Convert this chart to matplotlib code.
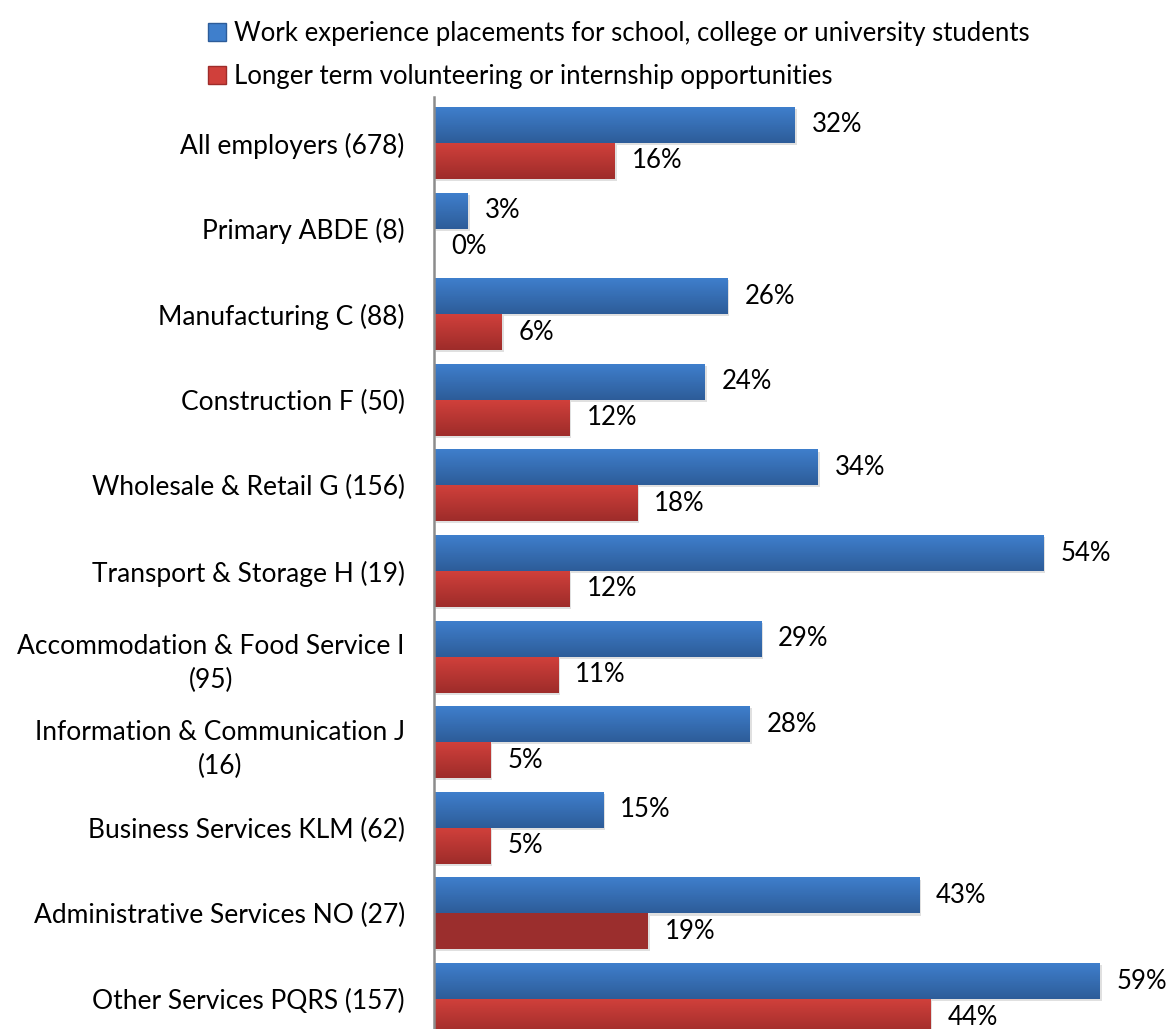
import numpy as np
import matplotlib
matplotlib.use("Agg")
import matplotlib.pyplot as plt
from matplotlib.patches import Patch
from matplotlib.colors import LinearSegmentedColormap
import matplotlib.patheffects as pe

categories = [
    "All employers (678)",
    "Primary ABDE (8)",
    "Manufacturing C (88)",
    "Construction F (50)",
    "Wholesale & Retail G (156)",
    "Transport & Storage H (19)",
    "Accommodation & Food Service I\n(95)",
    "Information & Communication J\n(16)",
    "Business Services KLM (62)",
    "Administrative Services NO (27)",
    "Other Services PQRS (157)",
]
work_experience = [32, 3, 26, 24, 34, 54, 29, 28, 15, 43, 59]
longer_term = [16, 0, 6, 12, 18, 12, 11, 5, 5, 19, 44]
series_labels = [
    "Work experience placements for school, college or university students",
    "Longer term volunteering or internship opportunities",
]
highlight = "Administrative Services NO (27)"

plt.rcParams["font.family"] = ["Lato", "DejaVu Sans"]
FS = 18.5

W, H = 1167, 1029
fig = plt.figure(figsize=(W / 100, H / 100), dpi=100)
px_per_unit = 11.28
x0 = 434
top_px, bot_px = 97, 1045
ax = fig.add_axes([x0 / W, (H - bot_px) / H, 65 * px_per_unit / W, (bot_px - top_px) / H])

y = np.arange(len(categories))
h = 0.42

blue_top, blue_bot = "#3f7fcc", "#2d5c99"
red_top, red_bot = "#d0403b", "#9e2c2a"
cmap_blue = LinearSegmentedColormap.from_list("b", [blue_top, blue_bot])
cmap_red = LinearSegmentedColormap.from_list("r", [red_top, red_bot])
grad = np.linspace(0, 1, 64).reshape(-1, 1)

shadow = [pe.SimplePatchShadow(offset=(1.5, -1.5), shadow_rgbFace="#000000", alpha=0.12), pe.Normal()]

bars_b = ax.barh(y - h / 2, work_experience, height=h, color=blue_bot, zorder=2)
bars_r = ax.barh(y + h / 2, longer_term, height=h, color=red_bot, zorder=2)

def fill_gradient(bars, cmap, solid=None):
    """Give each bar a soft shadow and a vertical colour gradient."""
    for i, b in enumerate(bars):
        b.set_path_effects(shadow)
        bx, by = b.get_x(), b.get_y()
        bw, bh = b.get_width(), b.get_height()
        if bw <= 0:
            b.set_visible(False)
            continue
        if solid is not None and solid[i]:
            b.set_facecolor("#9b2e2d")
            continue
        im = ax.imshow(grad, cmap=cmap, aspect="auto", extent=(bx, bx + bw, by + bh, by),
                       zorder=2.5, interpolation="bicubic")
        im.set_clip_path(b)

fill_gradient(bars_b, cmap_blue)
fill_gradient(bars_r, cmap_red, solid=[c == highlight for c in categories])
ax.set_xlim(0, 65)
ax.set_ylim(10.537, -0.537)

off = 17 / px_per_unit
for yi, v in zip(y - h / 2, work_experience):
    ax.text(v + off, yi, f"{v}%", va="center", ha="left", fontsize=FS, clip_on=False)
for yi, v in zip(y + h / 2, longer_term):
    ax.text(v + off, yi, f"{v}%", va="center", ha="left", fontsize=FS, clip_on=False)

ax.set_yticks(y)
ax.set_yticklabels(categories, fontsize=19, multialignment="center", linespacing=1.45)
ax.tick_params(axis="y", length=0, pad=21)
ax.set_xticks([])
for s in ["top", "right", "bottom"]:
    ax.spines[s].set_visible(False)
ax.spines["left"].set_color("#8c8c8c")
ax.spines["left"].set_linewidth(1.8)

handles = [Patch(facecolor=blue_top, edgecolor=blue_bot), Patch(facecolor=red_top, edgecolor=red_bot)]
fig.legend(handles, series_labels, loc="upper left", bbox_to_anchor=(195 / W, 1 - 8 / H),
           frameon=False, fontsize=FS, handlelength=0.7, handleheight=0.7,
           handletextpad=0.3, labelspacing=0.7, borderpad=0)

fig.savefig("out.png", dpi=100)
